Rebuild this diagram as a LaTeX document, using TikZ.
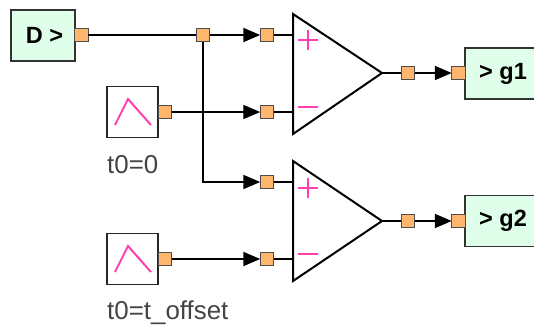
\documentclass[tikz,border=0pt]{standalone}
\usepackage{fontspec}
\setmainfont{Liberation Sans}
\usetikzlibrary{arrows.meta}
\definecolor{boxgreen}{HTML}{DFFFEA}
\definecolor{portorange}{HTML}{FFB56B}
\definecolor{signpink}{HTML}{FF3FAF}
\definecolor{labelgrey}{HTML}{444444}
\tikzset{
  port/.style={draw=black!70,line width=1.2pt,fill=portorange,minimum size=13.5pt,inner sep=0pt,outer sep=0pt},
  iobox/.style={draw=black!80,line width=1.2pt,fill=boxgreen,inner sep=0pt,outer sep=0pt,font=\fontsize{23.5}{26}\selectfont\bfseries},
  srcbox/.style={draw=black!85,line width=1.2pt,fill=white,minimum width=51pt,minimum height=51pt,inner sep=0pt,outer sep=0pt},
  wire/.style={line width=2pt,draw=black},
  arrowwire/.style={wire,-{Triangle[length=17pt,width=14pt]}},
  amp/.style={line width=2pt,draw=black,line join=miter},
  sign/.style={line width=2pt,draw=signpink},
  lab/.style={text=labelgrey,anchor=base west,inner sep=0pt,font=\fontsize{25.9}{28}\selectfont},
}
\begin{document}
\begin{tikzpicture}[x=1pt,y=-1pt]
\useasboundingbox (0,0) rectangle (534,324);
% amplifier triangles and their pins
\coordinate (a1p) at (293,35);
\coordinate (a1m) at (293,112);
\coordinate (a1o) at (382,73);
\coordinate (a2p) at (293,182);
\coordinate (a2m) at (293,259);
\coordinate (a2o) at (382,221);
% boxes
\node[iobox,minimum width=64pt,minimum height=51pt] (D) at (43,35.5) {\hspace{3pt}D >};
\node[srcbox] (s1) at (132.5,112) {};
\node[srcbox] (s2) at (132.5,259) {};
\node[iobox,minimum width=76pt,minimum height=51pt] (g1) at (503,73.5) {> g1};
\node[iobox,minimum width=76pt,minimum height=51pt] (g2) at (503,221) {> g2};
% ports
\node[port] (pD) at (81.5,35) {};
\node[port] (j) at (203,35) {};
\node[port] (i1) at (267,35) {};
\node[port] (ps1) at (165,112) {};
\node[port] (i2) at (267,112) {};
\node[port] (i3) at (267,182) {};
\node[port] (ps2) at (165,259) {};
\node[port] (i4) at (267,259) {};
\node[port] (o1) at (408,73) {};
\node[port] (og1) at (458.5,73) {};
\node[port] (o2) at (408,221) {};
\node[port] (og2) at (458.5,221) {};
% connectors
\draw[wire] (pD) -- (j);
\draw[arrowwire] (j) -- (i1);
\draw[arrowwire] (ps1) -- (i2);
\draw[arrowwire] (j) |- (i3);
\draw[arrowwire] (ps2) -- (i4);
\draw[wire] (i1) -- (a1p);
\draw[wire] (i2) -- (a1m);
\draw[wire] (i3) -- (a2p);
\draw[wire] (i4) -- (a2m);
\draw[wire] (a1o) -- (o1);
\draw[wire] (a2o) -- (o2);
\draw[arrowwire] (o1) -- (og1);
\draw[arrowwire] (o2) -- (og2);
% amplifiers
\draw[amp] (293,14) -- (a1o) -- (293,134) -- cycle;
\draw[amp] (293,161) -- (a2o) -- (293,281) -- cycle;
% signs
\draw[sign] (298,40) -- (318,40) (308,30) -- (308,50);
\draw[sign] (298,107) -- (318,107);
\draw[sign] (298,188) -- (318,188) (308,178) -- (308,198);
\draw[sign] (298,254) -- (318,254);
% ramps
\draw[sign] (115,125) -- (128,99) -- (151,125);
\draw[sign] (115,272) -- (128,246) -- (151,272);
% labels
\node[lab] (l1) at (107,173) {t0=0};
\node[lab] (l2) at (107,319) {t0=t\_offset};
\end{tikzpicture}
\end{document}
